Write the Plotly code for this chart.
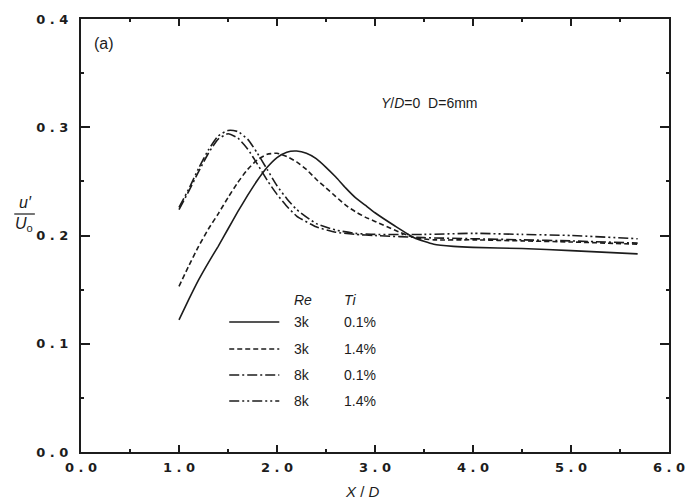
import plotly.graph_objects as go

# ---------------- data ----------------
x_3k_01 = [1.0, 1.1, 1.2, 1.3, 1.4, 1.5, 1.6, 1.7, 1.8, 1.9, 2.0, 2.1, 2.2, 2.3, 2.4, 2.5, 2.6,
           2.7, 2.8, 2.9, 3.0, 3.2, 3.4, 3.6, 3.8, 4.0, 4.5, 5.0, 5.68]
y_3k_01 = [0.122, 0.141, 0.159, 0.175, 0.190, 0.206, 0.222, 0.237, 0.251, 0.263, 0.272, 0.277,
           0.278, 0.276, 0.271, 0.263, 0.254, 0.244, 0.235, 0.228, 0.221, 0.209, 0.198, 0.192,
           0.190, 0.189, 0.188, 0.186, 0.183]

x_3k_14 = [1.0, 1.1, 1.2, 1.3, 1.4, 1.5, 1.6, 1.7, 1.8, 1.9, 2.0, 2.1, 2.2, 2.3, 2.4, 2.5, 2.6,
           2.7, 2.8, 2.9, 3.0, 3.2, 3.4, 3.6, 4.0, 4.5, 5.0, 5.68]
y_3k_14 = [0.153, 0.172, 0.190, 0.206, 0.220, 0.235, 0.249, 0.261, 0.270, 0.275, 0.276, 0.273,
           0.268, 0.261, 0.252, 0.244, 0.236, 0.228, 0.222, 0.217, 0.213, 0.205, 0.198, 0.196,
           0.196, 0.195, 0.194, 0.192]

x_8k = [1.0, 1.1, 1.2, 1.3, 1.4, 1.5, 1.6, 1.7, 1.8, 1.9, 2.0, 2.1, 2.2, 2.4, 2.6, 2.8, 3.0,
        3.5, 4.0, 4.5, 5.0, 5.68]
y_8k_01 = [0.224, 0.241, 0.259, 0.276, 0.289, 0.294, 0.290, 0.280, 0.266, 0.251, 0.238, 0.227,
           0.218, 0.208, 0.203, 0.201, 0.200, 0.198, 0.197, 0.196, 0.195, 0.193]
y_8k_14 = [0.226, 0.243, 0.262, 0.279, 0.292, 0.297, 0.296, 0.289, 0.276, 0.261, 0.246, 0.234,
           0.224, 0.211, 0.205, 0.202, 0.201, 0.201, 0.202, 0.201, 0.200, 0.197]

legend_re = ["3k", "3k", "8k", "8k"]
legend_ti = ["0.1%", "1.4%", "0.1%", "1.4%"]
dashes = ["solid", "5px,3px", "10px,3px,2px,3px", "10px,3px,2px,3px,2px,3px"]

x_tickvals = [0, 1, 2, 3, 4, 5, 6]
x_ticktext = ["0 . 0", "1 . 0", "2 . 0", "3 . 0", "4 . 0", "5 . 0", "6 . 0"]
y_tickvals = [0.0, 0.1, 0.2, 0.3, 0.4]
y_ticktext = ["0 . 0", "0 . 1", "0 . 2", "0 . 3", "0 . 4"]

# ---------------- layout geometry ----------------
W, H = 697, 501
L, R, T, B = 81, 680, 19, 452

def px(xp):
    return (xp - L) / (R - L)

def py(yp):
    return (B - yp) / (B - T)

INK = "#1c1c1c"
fig = go.Figure()
series = [(x_3k_01, y_3k_01), (x_3k_14, y_3k_14), (x_8k, y_8k_01), (x_8k, y_8k_14)]
for (xs, ys), d in zip(series, dashes):
    fig.add_trace(go.Scatter(x=xs, y=ys, mode="lines", showlegend=False, hoverinfo="skip",
                             line=dict(color=INK, width=1.6, dash=d, shape="spline", smoothing=0.5)))

tickfont = dict(family="DejaVu Sans", size=13, color=INK, weight="bold")
axis_common = dict(showgrid=False, zeroline=False, showline=True, linecolor=INK, linewidth=2,
                   mirror="allticks", ticks="inside", tickcolor=INK, tickwidth=1.5,
                   tickfont=tickfont)
fig.update_xaxes(range=[0, 6], tickvals=x_tickvals, ticktext=x_ticktext, ticklen=7,
                 ticklabelstandoff=2,
                 minor=dict(dtick=0.5, tick0=0, ticks="inside", ticklen=3, tickcolor=INK, tickwidth=1.5),
                 **axis_common)
fig.update_yaxes(range=[0, 0.4], tickvals=y_tickvals, ticktext=y_ticktext, ticklen=9,
                 ticklabelstandoff=8,
                 minor=dict(dtick=0.05, tick0=0, ticks="inside", ticklen=3, tickcolor=INK, tickwidth=1.5),
                 **axis_common)

txt = dict(family="Liberation Sans", size=14, color=INK)
ann = []
ann.append(dict(x=px(92), y=py(44), xref="paper", yref="paper", text="(a)", showarrow=False,
                xanchor="left", yanchor="middle", font=dict(family="Liberation Sans", size=16, color=INK)))
ann.append(dict(x=px(385), y=py(103), xref="paper", yref="paper",
                text="<i>Y</i>/<i>D</i>=0  D=6mm", showarrow=False,
                xanchor="left", yanchor="middle", font=dict(family="Liberation Sans", size=14, color=INK)))
# legend header
ann.append(dict(x=px(296), y=py(300), xref="paper", yref="paper", text="<i>Re</i>", showarrow=False,
                xanchor="left", yanchor="middle", font=txt))
ann.append(dict(x=px(347), y=py(300), xref="paper", yref="paper", text="<i>Ti</i>", showarrow=False,
                xanchor="left", yanchor="middle", font=txt))
shapes = []
row_y = [322, 349, 375, 401]
for ry, re_, ti, d in zip(row_y, legend_re, legend_ti, dashes):
    shapes.append(dict(type="line", xref="paper", yref="paper", x0=px(232), x1=px(283),
                       y0=py(ry), y1=py(ry), line=dict(color=INK, width=1.6, dash=d)))
    ann.append(dict(x=px(296), y=py(ry), xref="paper", yref="paper", text=re_, showarrow=False,
                    xanchor="left", yanchor="middle", font=txt))
    ann.append(dict(x=px(347), y=py(ry), xref="paper", yref="paper", text=ti, showarrow=False,
                    xanchor="left", yanchor="middle", font=txt))
# y-axis title u'/U_o
ann.append(dict(x=px(24), y=py(202), xref="paper", yref="paper", text="<i>u′</i>", showarrow=False,
                xanchor="center", yanchor="middle", font=dict(family="Liberation Sans", size=16, color=INK)))
shapes.append(dict(type="line", xref="paper", yref="paper", x0=px(13), x1=px(34),
                   y0=py(214), y1=py(214), line=dict(color=INK, width=1.2)))
ann.append(dict(x=px(23), y=py(225), xref="paper", yref="paper", text="<i>U</i><sub>o</sub>",
                showarrow=False, xanchor="center", yanchor="middle",
                font=dict(family="Liberation Sans", size=16, color=INK)))
# x-axis title
ann.append(dict(x=px(368), y=py(491), xref="paper", yref="paper", text="<i>X</i> / <i>D</i>",
                showarrow=False, xanchor="center", yanchor="middle",
                font=dict(family="Liberation Sans", size=15, color=INK)))

fig.update_layout(width=W, height=H, margin=dict(l=L, r=W - R, t=T, b=H - B),
                  paper_bgcolor="white", plot_bgcolor="white",
                  annotations=ann, shapes=shapes)
fig.write_html("out.html", config={"displayModeBar": False},
               post_script="document.body.style.margin='0';")
